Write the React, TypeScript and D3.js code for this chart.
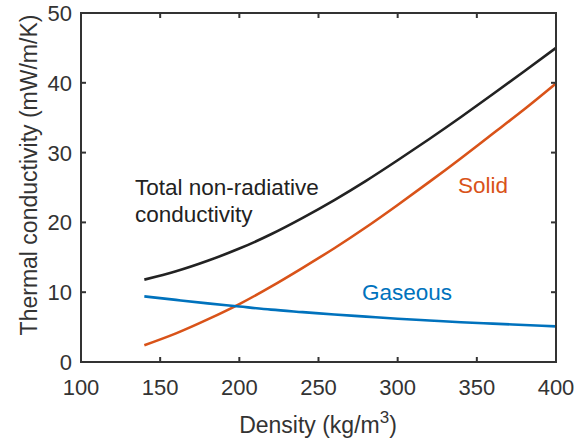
import React from "react";
import * as d3 from "d3";

const density = [140, 160, 180, 200, 220, 240, 260, 280, 300, 320, 340, 360, 380, 400];
const totalK = [11.8, 13.0, 14.5, 16.25, 18.3, 20.65, 23.2, 25.95, 28.9, 31.95, 35.1, 38.35, 41.65, 45.0];
const solidK = [2.4, 4.1, 6.1, 8.3, 10.8, 13.5, 16.3, 19.3, 22.5, 25.8, 29.2, 32.7, 36.2, 39.9];
const gasK = [9.4, 8.9, 8.4, 7.95, 7.5, 7.15, 6.8, 6.5, 6.2, 5.95, 5.7, 5.5, 5.3, 5.1];
const xTicks = [100, 150, 200, 250, 300, 350, 400];
const yTicks = [0, 10, 20, 30, 40, 50];

const W = 576;
const H = 444;
const m = { left: 81, right: 556, top: 13, bottom: 362 };
const FONT = "'Liberation Sans', Arial, sans-serif";
const TXT = "#333";

export default function App() {
  const x = d3.scaleLinear().domain([100, 400]).range([m.left, m.right]);
  const y = d3.scaleLinear().domain([0, 50]).range([m.bottom, m.top]);
  const line = (vals: number[]) =>
    d3
      .line<number>()
      .x((_, i) => x(density[i]))
      .y((v) => y(v))
      .curve(d3.curveNatural)(vals) || "";

  const series = [
    { vals: totalK, color: "#222222" },
    { vals: solidK, color: "#D95319" },
    { vals: gasK, color: "#0072BD" },
  ];
  const tl = 5;
  return (
    <svg
      width={W}
      height={H}
      style={{ position: "absolute", left: 0, top: 0, background: "#fff" }}
      fontFamily={FONT}
    >
      {series.map((s, i) => (
        <path key={i} d={line(s.vals)} fill="none" stroke={s.color} strokeWidth={2.6} />
      ))}
      <rect
        x={m.left}
        y={m.top}
        width={m.right - m.left}
        height={m.bottom - m.top}
        fill="none"
        stroke="#333"
        strokeWidth={2}
      />
      {xTicks.map((t) => (
        <g key={"x" + t}>
          <line x1={x(t)} x2={x(t)} y1={m.bottom} y2={m.bottom - tl} stroke="#333" strokeWidth={2} />
          <line x1={x(t)} x2={x(t)} y1={m.top} y2={m.top + tl} stroke="#333" strokeWidth={2} />
          <text x={x(t)} y={395} textAnchor="middle" fontSize={22} fill={TXT}>
            {t}
          </text>
        </g>
      ))}
      {yTicks.map((t) => (
        <g key={"y" + t}>
          <line x1={m.left} x2={m.left + tl} y1={y(t)} y2={y(t)} stroke="#333" strokeWidth={2} />
          <line x1={m.right} x2={m.right - tl} y1={y(t)} y2={y(t)} stroke="#333" strokeWidth={2} />
          <text x={72} y={y(t)} dy="0.36em" textAnchor="end" fontSize={22} fill={TXT}>
            {t}
          </text>
        </g>
      ))}
      <text x={318} y={433} textAnchor="middle" fontSize={23} fill={TXT}>
        Density (kg/m
        <tspan dy={-10} fontSize={17}>3</tspan>
        <tspan dy={10}>)</tspan>
      </text>
      <text
        transform={`translate(37,175) rotate(-90)`}
        textAnchor="middle"
        fontSize={23}
        fill={TXT}
      >
        Thermal conductivity (mW/m/K)
      </text>
      <text x={135} y={195} fontSize={22.5} fill="#222">
        Total non-radiative
      </text>
      <text x={135} y={222} fontSize={22.5} fill="#222">
        conductivity
      </text>
      <text x={458} y={193} fontSize={22.5} fill="#D95319">
        Solid
      </text>
      <text x={362} y={300} fontSize={22.5} fill="#0072BD">
        Gaseous
      </text>
    </svg>
  );
}
